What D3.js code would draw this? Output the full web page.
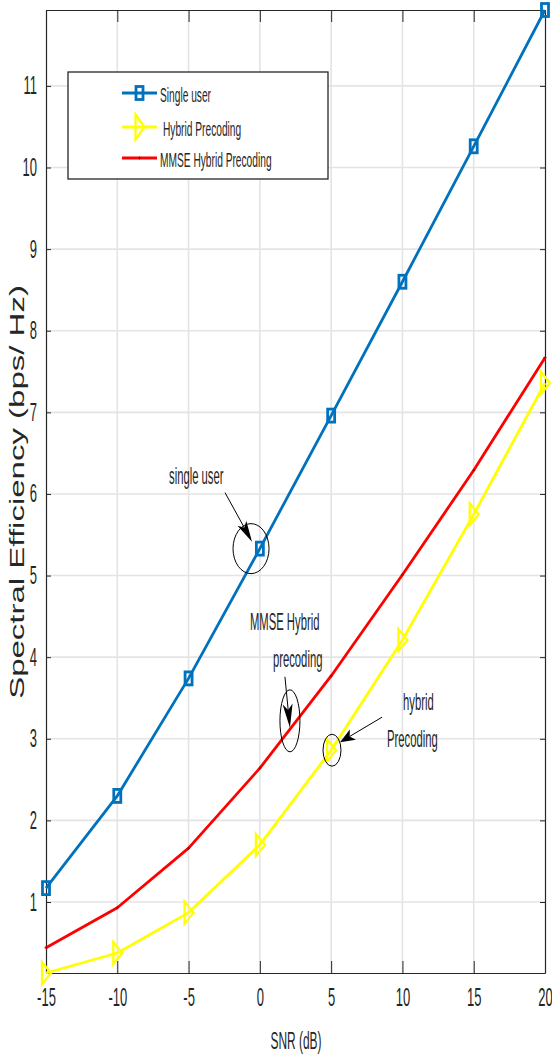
<!DOCTYPE html>
<html>
<head>
<meta charset="utf-8">
<script src="https://cdn.jsdelivr.net/npm/d3@7/dist/d3.min.js"></script>
<style>
  body { margin: 0; background: #fff; }
  text { font-family: "Liberation Sans", Arial, Helvetica, sans-serif; fill: #262626; }
</style>
</head>
<body>
<svg id="chart" width="552" height="1059"></svg>
<script>
// ---- data ----
const snr = [-15, -10, -5, 0, 5, 10, 15, 20];
const singleUser = [1.17, 2.30, 3.74, 5.33, 6.96, 8.60, 10.26, 11.93];
const mmseHybrid = [0.44, 0.93, 1.66, 2.64, 3.77, 5.01, 6.29, 7.67];
const hybridPrecoding = [0.13, 0.375, 0.87, 1.70, 2.86, 4.21, 5.75, 7.36];
const xTicks = [-15, -10, -5, 0, 5, 10, 15, 20];
const yTicks = [1, 2, 3, 4, 5, 6, 7, 8, 9, 10, 11];
const seriesNames = ["Single user", "Hybrid Precoding", "MMSE Hybrid Precoding"];
const xTitle = "SNR (dB)";
const yTitle = "Spectral Efficiency (bps/ Hz)";

// ---- layout ----
const plot = { left: 46, right: 545, top: 10, bottom: 973 };
const SX = 0.52;              // horizontal condensing of the lettering
const axisColor = "#262626";
const gridColor = "#e4e4e4";

const svg = d3.select("#chart");

const allVals = singleUser.concat(mmseHybrid, hybridPrecoding);
const x = d3.scaleLinear().domain([-15, 20]).range([plot.left, plot.right]);
const y = d3.scaleLinear().domain(d3.extent(allVals)).range([plot.bottom, plot.top]);

// condense text horizontally around its own anchor
function squash(sel, sx) {
  sel.each(function () {
    const t = d3.select(this);
    const ox = +t.attr("x") || 0;
    t.attr("x", ox / sx).attr("transform", (t.attr("transform") || "") + ` scale(${sx},1)`);
  });
}

// ---- grid ----
const grid = svg.append("g");
grid.selectAll("line.gx").data(xTicks.filter(d => d > -15 && d < 20)).join("line")
  .attr("x1", d => x(d)).attr("x2", d => x(d))
  .attr("y1", plot.top).attr("y2", plot.bottom)
  .attr("stroke", gridColor).attr("stroke-width", 1.6);
grid.selectAll("line.gy").data(yTicks).join("line")
  .attr("x1", plot.left).attr("x2", plot.right)
  .attr("y1", d => y(d)).attr("y2", d => y(d))
  .attr("stroke", gridColor).attr("stroke-width", 1.6);

// ---- axes (box with inward ticks on all four sides) ----
const plain = d => String(d);
const axL = d3.axisLeft(y).tickValues(yTicks).tickSizeInner(-5).tickSizeOuter(0).tickPadding(9).tickFormat(plain);
const axR = d3.axisRight(y).tickValues(yTicks).tickSizeInner(-5).tickSizeOuter(0).tickFormat("");
const axB = d3.axisBottom(x).tickValues(xTicks).tickSizeInner(-12).tickSizeOuter(0).tickPadding(26).tickFormat(plain);
const axT = d3.axisTop(x).tickValues(xTicks).tickSizeInner(-12).tickSizeOuter(0).tickFormat("");

const gL = svg.append("g").attr("transform", `translate(${plot.left},0)`).call(axL);
const gR = svg.append("g").attr("transform", `translate(${plot.right},0)`).call(axR);
const gB = svg.append("g").attr("transform", `translate(0,${plot.bottom})`).call(axB);
const gT = svg.append("g").attr("transform", `translate(0,${plot.top})`).call(axT);
[gL, gR, gB, gT].forEach(g => {
  g.select(".domain").attr("stroke", axisColor).attr("stroke-width", 1.2);
  g.selectAll(".tick line").attr("stroke", axisColor).attr("stroke-width", 1);
});
gL.selectAll(".tick text").attr("font-size", 25).attr("fill", axisColor);
gB.selectAll(".tick text").attr("font-size", 25).attr("fill", axisColor).attr("dy", "0.3em");
squash(gL.selectAll(".tick text"), SX);
squash(gB.selectAll(".tick text"), SX);
svg.selectAll(".tick text").attr("font-family", '"Liberation Sans", Arial, sans-serif');

// ---- axis titles ----
const xt = svg.append("text").attr("x", 296).attr("y", 1049)
  .attr("text-anchor", "middle").attr("font-size", 23).text(xTitle);
squash(xt, SX);
svg.append("text")
  .attr("transform", `translate(24,492) rotate(-90) scale(1,0.6)`)
  .attr("text-anchor", "middle").attr("font-size", 33).attr("font-weight", 500)
  .text(yTitle);

// ---- series ----
const line = d3.line().x((d, i) => x(snr[i])).y(d => y(d));
const series = [
  { name: seriesNames[0], values: singleUser, color: "#0072BD", marker: "square" },
  { name: seriesNames[1], values: hybridPrecoding, color: "#FFFF00", marker: "triangle" },
  { name: seriesNames[2], values: mmseHybrid, color: "#FF0000", marker: "plus" }
];

function drawMarker(g, type, color, cx, cy, big) {
  if (type === "square") {
    g.append("rect").attr("x", cx - 3.5).attr("y", cy - 6.5).attr("width", 7).attr("height", 13)
      .attr("fill", "none").attr("stroke", color).attr("stroke-width", 2.8);
  } else if (type === "triangle") {
    const h = big ? 12.5 : 11;
    g.append("path").attr("d", `M${cx - 4},${cy - h}L${cx + 5},${cy}L${cx - 4},${cy + h}Z`)
      .attr("fill", "none").attr("stroke", color).attr("stroke-width", 2.3).attr("stroke-linejoin", "miter");
  } else {
    g.append("path").attr("d", `M${cx - 1.5},${cy}H${cx + 1.5}M${cx},${cy - 1.5}V${cy + 1.5}`)
      .attr("stroke", "#b30000").attr("stroke-width", 1);
  }
}

series.forEach(s => {
  const g = svg.append("g");
  g.append("path").datum(s.values).attr("d", line)
    .attr("fill", "none").attr("stroke", s.color).attr("stroke-width", 2.8)
    .attr("stroke-linejoin", "round");
  s.values.forEach((v, i) => drawMarker(g, s.marker, s.color, x(snr[i]), y(v), false));
});

// ---- annotations ----
function arrow(g, tail, tip, len, half) {
  const dx = tip[0] - tail[0], dy = tip[1] - tail[1];
  const L = Math.hypot(dx, dy), ux = dx / L, uy = dy / L, px = -uy, py = ux;
  const bx = tip[0] - ux * len, by = tip[1] - uy * len;
  const nx = tip[0] - ux * len * 0.75, ny = tip[1] - uy * len * 0.75;
  g.append("line").attr("x1", tail[0]).attr("y1", tail[1]).attr("x2", nx).attr("y2", ny)
    .attr("stroke", "#000").attr("stroke-width", 1);
  g.append("path")
    .attr("d", `M${tip[0]},${tip[1]}L${bx + px * half},${by + py * half}L${nx},${ny}L${bx - px * half},${by - py * half}Z`)
    .attr("fill", "#000");
}

const annotations = [
  { at: [-0.62, 5.33], rx: 18, ry: 25, tail: [-26, -56], tip: [1, -7], head: [21, 5],
    lines: [{ t: "single user", dx: -82, dy: -65 }] },
  { at: [2.11, 3.22], rx: 10, ry: 31, tail: [-5, -44], tip: [0, 7], head: [24, 5],
    lines: [{ t: "MMSE Hybrid", dx: -40, dy: -91 }, { t: "precoding", dx: -17, dy: -54 }] },
  { at: [5.06, 2.86], rx: 9, ry: 16, tail: [50, -33], tip: [8, -8], head: [15, 6],
    lines: [{ t: "hybrid", dx: 71, dy: -40 }, { t: "Precoding", dx: 55, dy: -3 }] }
];

const ann = svg.append("g");
annotations.forEach(a => {
  const cx = x(a.at[0]), cy = y(a.at[1]);
  ann.append("ellipse").attr("cx", cx).attr("cy", cy).attr("rx", a.rx).attr("ry", a.ry)
    .attr("fill", "none").attr("stroke", "#000").attr("stroke-width", 1);
  arrow(ann, [cx + a.tail[0], cy + a.tail[1]], [cx + a.tip[0], cy + a.tip[1]], a.head[0], a.head[1]);
  a.lines.forEach(l => {
    const t = ann.append("text").attr("x", cx + l.dx).attr("y", cy + l.dy)
      .attr("font-size", 23).attr("fill", "#000").text(l.t);
    squash(t, 0.49);
  });
});

// ---- legend ----
const leg = svg.append("g");
leg.append("rect").attr("x", 68).attr("y", 72).attr("width", 260).attr("height", 107)
  .attr("fill", "#fff").attr("stroke", axisColor).attr("stroke-width", 1.3);
const legRows = [
  { s: series[0], y: 93, tx: 160 },
  { s: series[1], y: 127, tx: 163 },
  { s: series[2], y: 158, tx: 160 }
];
legRows.forEach(r => {
  leg.append("line").attr("x1", 122).attr("x2", 157).attr("y1", r.y).attr("y2", r.y)
    .attr("stroke", r.s.color).attr("stroke-width", 2.8);
  drawMarker(leg, r.s.marker, r.s.color, 139.5, r.y, true);
  const t = leg.append("text").attr("x", r.tx).attr("y", r.y + 9)
    .attr("font-size", 20).attr("fill", "#000").text(r.s.name);
  squash(t, 0.51);
});
</script>
</body>
</html>
